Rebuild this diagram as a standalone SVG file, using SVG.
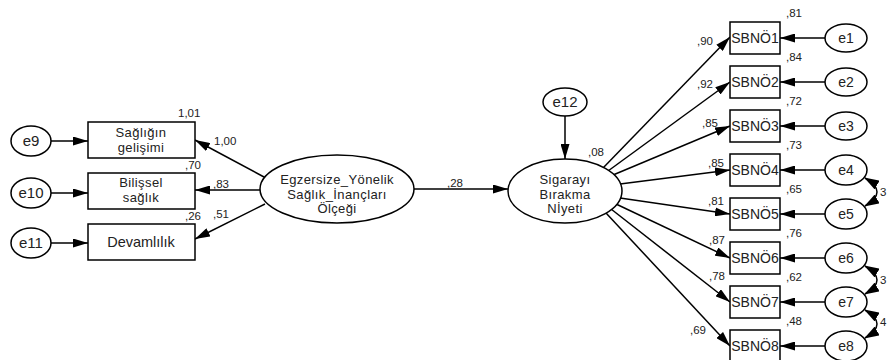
<svg xmlns="http://www.w3.org/2000/svg" width="888" height="360" viewBox="0 0 888 360">
<defs>
<marker id="ah" markerUnits="userSpaceOnUse" markerWidth="15" markerHeight="9" refX="15" refY="4.5" orient="auto"><path d="M0,0 L15,4.5 L0,9 z" fill="#000"/></marker>
<marker id="ahc" markerUnits="userSpaceOnUse" markerWidth="15" markerHeight="10" refX="14" refY="5" orient="auto-start-reverse"><path d="M0,0 L15,5 L0,10 z" fill="#000"/></marker>
<style>
.n{fill:#fff;stroke:#000;stroke-width:1.5}
.t{font-family:"Liberation Sans",Arial,sans-serif;fill:#222;text-anchor:middle}
.big{font-size:13px;letter-spacing:0.4px}
.one{font-size:14.5px}
.box{font-size:14px}
.e{font-size:15px}
.es{font-size:14px}
.num{font-family:"Liberation Sans",Arial,sans-serif;font-size:11.5px;fill:#222}
.c{stroke:#000;stroke-width:1.5;fill:none;marker-end:url(#ah)}
.cov{stroke:#000;stroke-width:1.5;fill:none;marker-start:url(#ahc);marker-end:url(#ahc)}
</style>
</defs>
<rect width="888" height="360" fill="#fff"/>
<g id="connectors">
<line class="c" x1="51" y1="141" x2="88" y2="141"/>
<line class="c" x1="51" y1="193" x2="88" y2="193"/>
<line class="c" x1="51" y1="243" x2="88" y2="243"/>
<line class="c" x1="264" y1="177" x2="195" y2="140"/>
<line class="c" x1="260" y1="190" x2="195" y2="190"/>
<line class="c" x1="265" y1="204" x2="195" y2="239"/>
<line class="c" x1="414" y1="189" x2="508" y2="189"/>
<line class="c" x1="565" y1="116" x2="565" y2="159"/>
<line class="c" x1="603" y1="168" x2="730" y2="37"/>
<line class="c" x1="608" y1="171" x2="730" y2="82"/>
<line class="c" x1="613" y1="175" x2="730" y2="126"/>
<line class="c" x1="620" y1="184" x2="730" y2="170"/>
<line class="c" x1="620" y1="198" x2="730" y2="214"/>
<line class="c" x1="616" y1="204" x2="730" y2="258"/>
<line class="c" x1="611" y1="209" x2="730" y2="302"/>
<line class="c" x1="606" y1="213" x2="730" y2="346"/>
<line class="c" x1="825" y1="38" x2="780" y2="38"/>
<line class="c" x1="825" y1="82" x2="780" y2="82"/>
<line class="c" x1="825" y1="126" x2="780" y2="126"/>
<line class="c" x1="825" y1="170" x2="780" y2="170"/>
<line class="c" x1="825" y1="214" x2="780" y2="214"/>
<line class="c" x1="825" y1="258" x2="780" y2="258"/>
<line class="c" x1="825" y1="302" x2="780" y2="302"/>
<line class="c" x1="825" y1="346" x2="780" y2="346"/>
<path class="cov" d="M865,178 Q889,192 865,206"/>
<path class="cov" d="M865,266 Q889,280 865,294"/>
<path class="cov" d="M865,310 Q889,324 865,338"/>
</g>
<g id="labels">
<text class="num" x="178" y="117">1,01</text>
<text class="num" x="185" y="169">,70</text>
<text class="num" x="185" y="220">,26</text>
<text class="num" x="214" y="145">1,00</text>
<text class="num" x="213" y="188">,83</text>
<text class="num" x="213" y="218">,51</text>
<text class="num" x="447" y="187">,28</text>
<text class="num" x="588" y="156">,08</text>
<text class="num" x="697" y="45">,90</text>
<text class="num" x="697" y="88">,92</text>
<text class="num" x="702" y="127">,85</text>
<text class="num" x="708" y="167">,85</text>
<text class="num" x="708" y="205">,81</text>
<text class="num" x="709" y="244">,87</text>
<text class="num" x="709" y="280">,78</text>
<text class="num" x="690" y="334">,69</text>
<text class="num" x="786" y="17">,81</text>
<text class="num" x="786" y="61">,84</text>
<text class="num" x="786" y="105">,72</text>
<text class="num" x="786" y="149">,73</text>
<text class="num" x="786" y="193">,65</text>
<text class="num" x="786" y="237">,76</text>
<text class="num" x="786" y="281">,62</text>
<text class="num" x="786" y="325">,48</text>
<text class="num" x="880" y="196">3</text>
<text class="num" x="880" y="284">3</text>
<text class="num" x="880" y="326">4</text>
</g>
<g id="e9"><ellipse class="n" cx="31" cy="141" rx="20" ry="15"/><text class="t e" x="31" y="146">e9</text></g>
<g id="e10"><ellipse class="n" cx="31" cy="193" rx="20" ry="15"/><text class="t e" x="31" y="198">e10</text></g>
<g id="e11"><ellipse class="n" cx="31" cy="243" rx="20" ry="15"/><text class="t e" x="31" y="248">e11</text></g>
<g id="saglik-gelisimi"><rect class="n" x="88" y="122" width="107" height="36"/><text class="t big" x="141" y="137">Sağlığın</text><text class="t big" x="141" y="152">gelişimi</text></g>
<g id="bilissel-saglik"><rect class="n" x="88" y="173" width="107" height="36"/><text class="t big" x="141" y="187">Bilişsel</text><text class="t big" x="141" y="202">sağlık</text></g>
<g id="devamlilik"><rect class="n" x="88" y="224" width="107" height="36"/><text class="t one" x="141" y="247">Devamlılık</text></g>
<g id="egzersize"><ellipse class="n" cx="337" cy="189" rx="77" ry="34"/><text class="t big" x="337" y="184">Egzersize_Yönelik</text><text class="t big" x="337" y="199">Sağlık_İnançları</text><text class="t big" x="337" y="213">Ölçeği</text></g>
<g id="e12"><ellipse class="n" cx="565" cy="102" rx="22" ry="14"/><text class="t e" x="565" y="107">e12</text></g>
<g id="sigarayi"><ellipse class="n" cx="565" cy="191" rx="57" ry="32"/><text class="t big" x="565" y="184">Sigarayı</text><text class="t big" x="565" y="199">Bırakma</text><text class="t big" x="565" y="213">Nİyeti</text></g>
<g id="SBNO1"><rect class="n" x="730" y="22" width="50" height="32"/><text class="t box" x="755" y="43">SBNÖ1</text></g>
<g id="SBNO2"><rect class="n" x="730" y="66" width="50" height="32"/><text class="t box" x="755" y="87">SBNÖ2</text></g>
<g id="SBNO3"><rect class="n" x="730" y="110" width="50" height="32"/><text class="t box" x="755" y="131">SBNÖ3</text></g>
<g id="SBNO4"><rect class="n" x="730" y="154" width="50" height="32"/><text class="t box" x="755" y="175">SBNÖ4</text></g>
<g id="SBNO5"><rect class="n" x="730" y="198" width="50" height="32"/><text class="t box" x="755" y="219">SBNÖ5</text></g>
<g id="SBNO6"><rect class="n" x="730" y="242" width="50" height="32"/><text class="t box" x="755" y="263">SBNÖ6</text></g>
<g id="SBNO7"><rect class="n" x="730" y="286" width="50" height="32"/><text class="t box" x="755" y="307">SBNÖ7</text></g>
<g id="SBNO8"><rect class="n" x="730" y="330" width="50" height="32"/><text class="t box" x="755" y="351">SBNÖ8</text></g>
<g id="e1"><ellipse class="n" cx="846" cy="38" rx="21" ry="14"/><text class="t es" x="846" y="43">e1</text></g>
<g id="e2"><ellipse class="n" cx="846" cy="82" rx="21" ry="14"/><text class="t es" x="846" y="87">e2</text></g>
<g id="e3"><ellipse class="n" cx="846" cy="126" rx="21" ry="14"/><text class="t es" x="846" y="131">e3</text></g>
<g id="e4"><ellipse class="n" cx="846" cy="170" rx="21" ry="15"/><text class="t es" x="846" y="175">e4</text></g>
<g id="e5"><ellipse class="n" cx="846" cy="214" rx="21" ry="15"/><text class="t es" x="846" y="219">e5</text></g>
<g id="e6"><ellipse class="n" cx="846" cy="258" rx="21" ry="15"/><text class="t es" x="846" y="263">e6</text></g>
<g id="e7"><ellipse class="n" cx="846" cy="302" rx="21" ry="15"/><text class="t es" x="846" y="307">e7</text></g>
<g id="e8"><ellipse class="n" cx="846" cy="346" rx="21" ry="15"/><text class="t es" x="846" y="351">e8</text></g>
</svg>
